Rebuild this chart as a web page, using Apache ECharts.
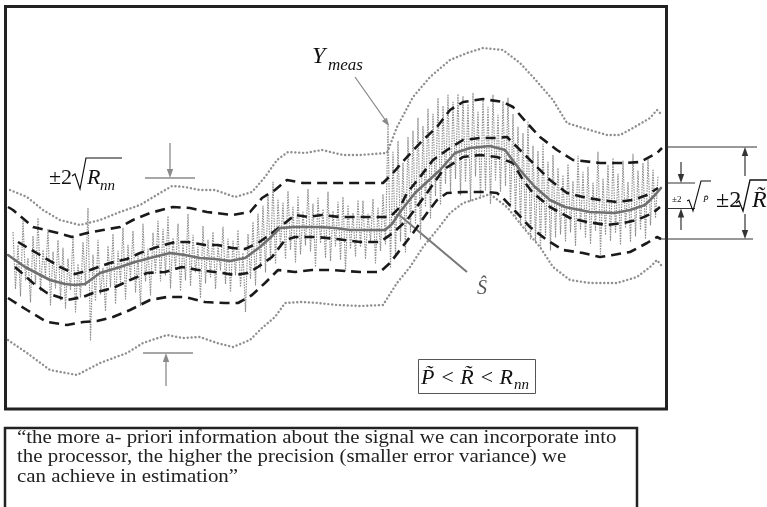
<!DOCTYPE html>
<html>
<head>
<meta charset="utf-8">
<script src="https://cdn.jsdelivr.net/npm/echarts@6/dist/echarts.min.js"></script>
<style>html,body{margin:0;padding:0;background:#fff;}#c{width:767px;height:507px;}</style>
</head>
<body>
<div id="c"></div>
<script>
// ---- data (time t, amplitude v) ----
const measT0 = 1, measStep = 0.5;
const yMeas = [
 17.8,12.1,16.5,11.4,18.9,13.0,15.2,10.8,17.4,12.6,19.2,11.9,16.0,13.4,18.1,10.5,15.8,12.2,17.0,
 11.0,16.2,10.2,15.1,12.0,17.3,9.8,14.6,11.3,16.8,12.4,20.2,7.0,15.5,10.9,17.0,11.6,14.2,9.9,16.4,
 12.3,17.6,10.6,15.9,12.8,18.2,11.1,16.5,13.2,17.9,11.8,15.4,10.4,18.6,12.9,16.1,11.5,17.7,13.6,18.9,
 12.9,18.1,13.5,19.4,12.2,17.2,14.1,18.6,11.9,16.7,13.0,19.6,12.4,17.5,13.8,16.3,11.2,18.4,12.7,17.0,
 13.3,17.8,12.1,16.4,14.0,18.3,12.6,17.1,11.8,16.9,13.5,18.0,12.3,15.7,9.8,17.6,13.1,18.8,12.5,19.6,
 14.2,20.4,13.8,21.5,15.0,22.8,14.6,21.0,16.2,20.7,15.1,21.9,16.0,20.3,14.8,21.4,15.6,19.8,16.5,22.1,
 15.9,20.6,14.3,21.2,16.7,20.1,15.2,21.8,14.9,19.9,16.4,20.8,15.0,21.3,13.9,20.5,16.1,19.7,15.4,21.0,
 16.3,20.9,15.1,19.6,16.8,21.1,14.7,20.2,15.9,21.6,16.6,28.6,14.2,25.8,15.4,26.9,16.9,24.7,15.8,27.3,
 17.8,27.9,18.6,29.2,17.1,28.4,20.3,30.1,19.2,29.6,21.4,31.2,20.5,30.4,22.6,31.5,21.9,30.8,23.1,31.6,
 21.5,31.4,22.8,30.6,20.9,31.7,23.4,29.8,21.2,31.1,22.0,30.3,20.6,31.5,23.0,29.5,21.8,30.9,22.4,31.2,
 20.2,29.6,19.4,28.3,18.5,27.7,17.9,28.8,17.1,26.4,16.8,25.9,16.2,26.6,17.4,24.8,16.0,25.5,17.3,24.2,
 17.6,23.5,16.9,24.6,17.8,22.9,16.4,25.4,18.1,23.8,17.2,24.3,16.6,22.7,17.9,25.8,15.6,23.1,17.5,24.5,
 16.9,25.2,17.7,23.6,16.5,24.9,18.2,22.8,16.8,25.6,17.4,23.9,18.0,24.7,17.1,25.1,18.5,24.0,19.2,23.4
];
const sHat = [[0,15.5],[3.4,14.3],[8.4,13.0],[11.4,12.6],[13.4,12.5],[15.4,12.6],[18.4,13.7],[22.4,14.3],[25.4,14.8],[28.4,15.2],[32.4,15.7],[35.4,15.5],[38.4,15.2],[41.4,15.1],[44.4,14.9],[47.4,15.2],[50.4,16.3],[52.4,17.2],[54.4,18.2],[57.4,18.3],[62.4,18.3],[65.4,18.2],[68.4,18.0],[75.4,18.0],[76.8,18.6],[78.4,19.8],[81.4,21.7],[86.4,24.0],[89.4,25.7],[92.4,26.2],[96.4,26.4],[99.4,26.0],[102.4,24.0],[105.4,22.3],[108.4,21.0],[111.4,20.3],[116.4,19.8],[121.4,19.7],[124.4,20.0],[127.4,20.5],[129.4,21.5],[130.6,22.2]];
const rUpper = [[0,20.3],[1,20.0],[5,18.3],[10,17.7],[12.8,17.3],[15.8,17.7],[19,18.0],[22.4,18.3],[25,19.0],[28.4,19.7],[33,20.3],[36.4,20.2],[39.8,19.8],[45,19.5],[48.4,19.8],[50.8,21.2],[53.4,22.0],[55.8,23.0],[59,22.7],[65,22.7],[75,22.7],[77,23.7],[79.8,25.3],[83,27.0],[85.8,28.3],[88.4,30.0],[91,30.8],[95,31.1],[99,30.8],[101,30.3],[103.8,28.7],[106.4,27.3],[109.8,26.0],[113,25.0],[118.4,24.7],[123,24.7],[126.4,24.8],[129.8,25.7],[130.8,26.2]];
const pUpper = [[2,16.8],[6.4,15.5],[10.4,14.3],[13.4,13.6],[16.4,14.0],[20.4,14.7],[23.8,15.1],[26.4,15.7],[29.8,16.3],[33.4,16.8],[36,16.8],[39.4,16.5],[42,16.5],[44.8,16.2],[47.4,16.1],[50,16.7],[52.8,17.7],[55.4,18.7],[57.4,19.5],[60,19.3],[62.8,19.5],[66.4,19.3],[71,19.3],[76.4,19.3],[78.4,20.3],[79.8,21.7],[82.4,23.3],[85,25.0],[87.8,26.0],[91,27.0],[94.4,27.2],[97.8,27.2],[99.8,27.3],[102.4,26.0],[105,24.7],[108.4,23.0],[111.8,21.7],[115,21.3],[118.4,21.0],[121.8,20.8],[125,21.0],[127.8,21.5],[130,22.2]];
const pLower = [[1.4,14.3],[5,12.7],[7.8,11.7],[11.8,11.0],[15,11.3],[17,11.7],[21,12.2],[24.4,13.0],[27.8,13.7],[31.4,13.8],[34.8,14.3],[38,14.0],[42.8,13.7],[45.4,13.5],[48,13.7],[50,14.3],[52.8,15.3],[55.4,17.0],[57.4,17.3],[61.8,17.3],[65.8,17.1],[70.4,16.8],[74.4,16.8],[77,17.7],[79.8,19.0],[83.8,21.7],[87,24.0],[91,25.3],[94.4,25.5],[97.8,25.3],[101,24.7],[103,23.0],[105,21.7],[108.4,20.3],[112.4,19.2],[115.8,18.8],[119.8,18.5],[123,18.7],[125.8,19.0],[129,19.7],[130.4,20.3]];
const rLower = [[0,11.2],[3.8,10.0],[7.8,8.8],[11.8,8.5],[15,8.8],[17.8,8.9],[21,9.3],[24.4,10.0],[28.4,11.0],[31.8,11.3],[35.4,11.3],[39.4,10.8],[43.4,10.7],[46,10.7],[48.8,11.5],[51.4,12.7],[54,14.0],[57.4,13.8],[60.8,14.0],[64.8,14.0],[70.4,13.8],[74.4,13.8],[76.4,14.7],[78.4,16.0],[81,17.7],[83.8,19.7],[85.8,21.0],[87.8,21.7],[91,21.8],[95.8,21.8],[97.8,21.7],[99,21.2],[101.8,19.7],[104.4,18.3],[107.8,17.0],[111,16.0],[115,15.7],[118.4,15.3],[121,15.5],[124.4,15.8],[127.8,16.7],[129.8,17.3],[130.6,17.1]];
const rnnUpper = [[0.4,22.0],[3.8,21.3],[7,20.0],[10.4,19.0],[14.4,18.5],[18.4,19.0],[22.4,19.8],[26.4,20.5],[30.4,21.7],[32.8,22.4],[35.4,22.3],[38.4,22.0],[41.4,22.0],[45.4,21.3],[48.8,21.8],[51.4,23.3],[53.8,25.0],[56,25.8],[59.4,25.7],[62.8,26.0],[67,25.5],[70.4,25.5],[75.8,25.7],[77.8,28.3],[81,31.3],[84.4,33.3],[88.4,35.0],[91.8,35.7],[95,36.2],[99,36.0],[102.4,34.7],[105,33.3],[109,31.0],[111.8,28.7],[115,28.2],[119.8,27.5],[122.4,27.5],[125,28.2],[128.4,29.2],[129.8,30.0],[130.8,29.5]];
const rnnLower = [[0,7.0],[3.8,5.7],[8.4,4.0],[13.8,3.5],[18.4,4.7],[23.8,5.7],[27,6.7],[31.8,7.5],[35,7.2],[38.4,7.3],[41.8,6.7],[45,6.3],[48.4,7.0],[50.8,8.2],[53.4,9.3],[55.4,10.7],[58.8,10.8],[62,10.7],[65.8,10.5],[70.4,10.4],[75,10.5],[77.8,12.7],[80.4,14.3],[83,16.3],[85.8,18.0],[88.4,19.7],[91,20.7],[93,21.0],[96.4,21.6],[99.8,20.3],[103,18.3],[106.4,16.3],[109,14.3],[112.4,13.0],[116.4,12.7],[121.8,12.7],[125.8,13.3],[128.4,14.3],[129.8,15.0],[130.6,14.5]];
const quoteLines = [
 "\u201Cthe more a- priori information about the signal we can incorporate into",
 "the processor, the higher the precision (smaller error variance) we",
 "can achieve in estimation\u201D"
];

// ---- build ----
const measData = yMeas.map((v, i) => [measT0 + i * measStep, v]);
function ln(data, color, width, type, z, cap) {
  return { type: 'line', data, symbol: 'none', showSymbol: false, silent: true, z,
    lineStyle: { color, width, type, cap: cap || 'butt', join: 'round' }, animation: false };
}
const SERIF = "'Liberation Serif','DejaVu Serif',serif";
const gray = '#8a8a8a', blk = '#1a1a1a';
function L(x1,y1,x2,y2,stroke,w){return {type:'line',silent:true,shape:{x1,y1,x2,y2},style:{stroke,lineWidth:w||1}};}
function head(x,y,dir,fill){
  const s = dir==='down'? -1 : 1;
  return {type:'polygon',silent:true,shape:{points:[[x,y],[x-3.2,y+9*s],[x+3.2,y+9*s]]},style:{fill}};
}
function T(x,y,text,size,opts){
  opts=opts||{};
  const el = {type:'text',silent:true,x,y,style:{text,font:(opts.italic?'italic ':'')+size+'px '+SERIF,fill:opts.fill||'#111',align:opts.align||'left',verticalAlign:'middle'}};
  if (opts.scaleX) { el.scaleX = opts.scaleX; }
  return el;
}
function rad(points,w){return {type:'polyline',silent:true,shape:{points},style:{stroke:'#111',lineWidth:w||1.2,fill:null}};}

const elements = [
  {type:'rect',silent:true,shape:{x:5.5,y:6.5,width:661,height:402.5},style:{stroke:'#222',lineWidth:3,fill:null}},
  {type:'rect',silent:true,shape:{x:5,y:428,width:632,height:90},style:{stroke:'#222',lineWidth:2.5,fill:null}},
  // Ymeas label + arrow
  T(312,57,'Y',24,{italic:true}),
  T(328,66,'meas',17,{italic:true}),
  L(355,77,386,121,gray,1.3),
  {type:'polygon',silent:true,shape:{points:[[389,126],[381.9,121.1],[386.9,117.7]]},style:{fill:gray}},
  // ±2 sqrt Rnn
  T(49,178,'\u00B12',22),
  rad([[72,176],[75,174],[80,189],[86,158],[122,158]]),
  T(87,178,'R',22,{italic:true}),
  T(100,186,'nn',15,{italic:true}),
  L(145,178,195,178,gray,1.3), L(170,143,170,170,gray,1.3), head(170,178,'down',gray),
  L(143,353,193,353,gray,1.3), L(166,386,166,360,gray,1.3), head(166,353,'up',gray),
  // S hat pointer
  L(398,214,467,272,'#777',2),
  T(477,289,'\u015C',20,{italic:true,fill:'#555'}),
  // inequality box
  {type:'rect',silent:true,shape:{x:418.5,y:359.5,width:117,height:34},style:{stroke:'#555',lineWidth:1,fill:null}},
  T(421,378,'P\u0303 < R\u0303 < R',22,{italic:true}),
  T(514,385,'nn',15,{italic:true}),
  // right brackets
  L(667,147,757,147,'#333',1), L(660,239,753,239,'#333',1),
  L(745,176,745,155,'#333',1.2), head(745,147,'up','#333'),
  L(745,214,745,231,'#333',1.2), head(745,239,'down','#333'),
  L(667,183,695,183,'#333',1), L(667,208.5,695,208.5,'#333',1),
  L(681,162,681,176,'#333',1.2), head(681,183,'down','#333'),
  L(681,230,681,216,'#333',1.2), head(681,208.5,'up','#333'),
  T(672,200,'\u00B12',9),
  rad([[687,201],[689,200],[693,211],[701,181],[711,181]],1.1),
  T(703,200,'P\u0303',9,{italic:true}),
  T(716,201,'\u00B12',24),
  rad([[736,203],[739,201],[743,211],[750,180],[767,180]],1.3),
  T(752,201,'R\u0303',24,{italic:true})
];
quoteLines.forEach((s,i)=>elements.push(T(17,438+i*19.5,s,19,{fill:'#222',scaleX:1.1})));

const chart = echarts.init(document.getElementById('c'), null, {renderer:'canvas'});
chart.setOption({
  animation:false,
  backgroundColor:'#fff',
  grid:{left:8, top:10, width:655, height:400},
  xAxis:{type:'value', min:0, max:131, show:false},
  yAxis:{type:'value', min:0, max:40, show:false},
  series:[
    ln(measData,'#8e8e8e',1.15,[1.5,1.1],1),
    ln(rnnUpper,'#8f8f8f',2.4,[0.1,3.8],2,'round'),
    ln(rnnLower,'#8f8f8f',2.4,[0.1,3.8],2,'round'),
    ln(rUpper,blk,2.6,[10,6],3),
    ln(rLower,blk,2.6,[10,6],3),
    ln(pUpper,blk,2.6,[10,6],3),
    ln(pLower,blk,2.6,[10,6],3),
    ln(sHat,'#707070',2.6,'solid',4,'round')
  ],
  graphic:{elements}
});
</script>
</body>
</html>
